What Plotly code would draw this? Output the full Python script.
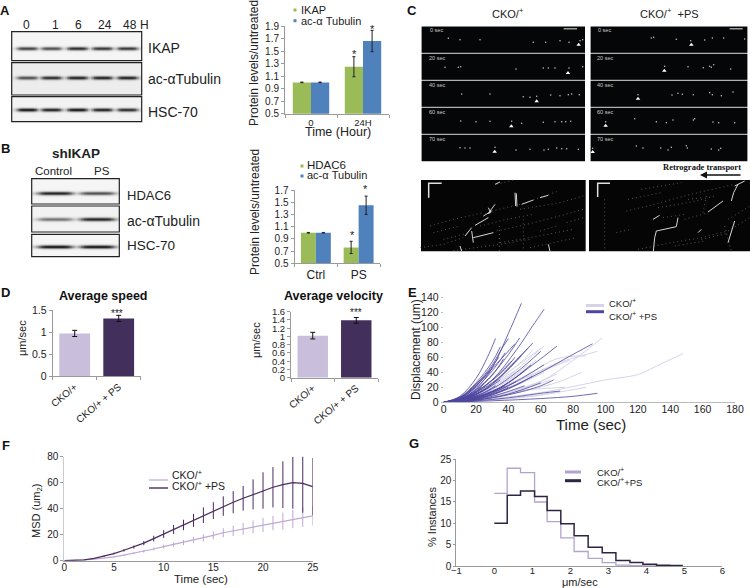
import numpy as np
import plotly.graph_objects as go

W, H = 750, 588
FONT = "Liberation Sans"
TXT = "#222222"
AXC = "#9a9a9a"

# ---------- Panel A / B bars
A_cats = ["0", "24H"]
A_ikap = [1.0, 1.25]
A_ikap_err = [0.005, 0.16]
A_tub = [1.0, 1.66]
A_tub_err = [0.005, 0.17]
A_ticks = [0.5, 0.7, 0.9, 1.1, 1.3, 1.5, 1.7, 1.9]

B_cats = ["Ctrl", "PS"]
B_hdac = [1.0, 0.76]
B_hdac_err = [0.005, 0.10]
B_tub = [1.0, 1.45]
B_tub_err = [0.005, 0.15]
B_ticks = [0.5, 0.7, 0.9, 1.1, 1.3, 1.5, 1.7]

# ---------- Panel D
D_cats = ["CKO/+", "CKO/+ + PS"]
D_speed = [0.97, 1.31]
D_speed_err = [0.07, 0.07]
D_vel = [1.02, 1.39]
D_vel_err = [0.08, 0.07]
D_speed_ticks = [0, 0.5, 1, 1.5]
D_vel_ticks = [0, 0.2, 0.4, 0.6, 0.8, 1, 1.2, 1.4, 1.6]

# ---------- Panel E (time, displacement) read per track
E_dark = [
    ([0, 10, 20, 30, 40, 48], [0, 4, 18, 46, 92, 132]),
    ([0, 15, 30, 45, 55, 62], [0, 7, 30, 70, 102, 124]),
    ([0, 10, 20, 27, 32], [0, 8, 32, 60, 85]),
    ([0, 10, 20, 30, 36, 40], [0, 6, 24, 50, 72, 85]),
    ([0, 12, 25, 38, 47], [0, 6, 26, 58, 86]),
    ([0, 15, 30, 45, 55], [0, 6, 24, 56, 79]),
    ([0, 15, 30, 42, 52], [0, 6, 25, 50, 72]),
    ([0, 15, 30, 45, 60], [0, 5, 18, 40, 68]),
    ([0, 15, 35, 55, 70], [0, 5, 20, 50, 75]),
    ([0, 20, 40, 60, 75, 92], [0, 5, 19, 40, 58, 78]),
    ([0, 10, 20, 30, 38], [0, 5, 20, 42, 66]),
    ([0, 10, 20, 28, 34], [0, 6, 22, 42, 60]),
    ([0, 12, 24, 36, 44], [0, 6, 20, 40, 60]),
    ([0, 10, 20, 30], [0, 6, 22, 45]),
    ([0, 15, 30, 45, 54], [0, 4, 14, 34, 50]),
    ([0, 15, 30, 45], [0, 3, 12, 28]),
    ([0, 20, 40, 55], [0, 4, 18, 35]),
    ([0, 20, 40, 60, 68], [0, 3, 10, 22, 30]),
    ([0, 20, 40, 60, 72], [0, 2, 6, 12, 15]),
    ([0, 30, 60, 80, 95], [0, 2, 5, 8, 12]),
    ([0, 15, 30, 40], [0, 3, 10, 20]),
    ([0, 10, 25, 35], [0, 4, 16, 30]),
    ([0, 12, 24, 32], [0, 3, 12, 22]),
    ([0, 10, 20, 25], [0, 3, 14, 26]),
    ([0, 8, 16, 22], [0, 3, 13, 26]),
    ([0, 10, 20, 30, 37], [0, 4, 16, 36, 58]),
    ([0, 10, 20, 30, 42], [0, 4, 14, 30, 55]),
    ([0, 12, 24, 36, 48], [0, 5, 18, 36, 62]),
    ([0, 15, 30, 40, 50], [0, 4, 14, 26, 42]),
    ([0, 15, 30, 45, 62], [0, 4, 13, 28, 50]),
    ([0, 10, 20, 28], [0, 3, 10, 20]),
    ([0, 12, 25, 38], [0, 3, 10, 22]),
    ([0, 15, 30, 50], [0, 2, 8, 22]),
    ([0, 20, 40, 60], [0, 3, 11, 26]),
    ([0, 10, 18, 24], [0, 2, 8, 16]),
    ([0, 10, 20, 33, 44], [0, 6, 24, 52, 78]),
    ([0, 10, 20, 30, 35], [0, 7, 26, 54, 74]),
]
E_light = [
    ([0, 30, 60, 80, 98], [0, 8, 28, 56, 86]),
    ([0, 30, 60, 80, 100, 120, 135, 148], [0, 5, 13, 21, 30, 37, 52, 65]),
    ([0, 25, 50, 70, 85, 95], [0, 9, 32, 52, 62, 68]),
    ([0, 25, 50, 70, 88], [0, 10, 35, 58, 62]),
    ([0, 20, 40, 55, 62], [0, 10, 35, 62, 75]),
    ([0, 20, 40, 50, 55], [0, 12, 40, 58, 70]),
    ([0, 25, 50, 75], [0, 6, 16, 20]),
    ([0, 30, 60, 88], [0, 4, 10, 20]),
    ([0, 20, 40, 60, 78], [0, 7, 24, 42, 56]),
    ([0, 20, 40, 52], [0, 9, 30, 50]),
    ([0, 20, 35, 48], [0, 10, 30, 48]),
    ([0, 25, 50, 66], [0, 6, 18, 30]),
    ([0, 15, 30, 45, 60], [0, 7, 24, 48, 72]),
    ([0, 15, 30, 45, 57], [0, 5, 17, 36, 56]),
    ([0, 20, 40, 58, 72], [0, 6, 20, 38, 52]),
    ([0, 20, 40, 60, 70], [0, 4, 14, 28, 38]),
    ([0, 20, 40, 62], [0, 5, 18, 40]),
    ([0, 15, 30, 44], [0, 6, 20, 40]),
    ([0, 25, 50, 72, 85], [0, 5, 15, 28, 40]),
    ([0, 30, 55, 72], [0, 3, 8, 14]),
]
E_xticks = [0, 20, 40, 60, 80, 100, 120, 140, 160, 180]
E_yticks = [0, 20, 40, 60, 80, 100, 120, 140]

# ---------- Panel F
F_t = list(range(26))
F_cko = [0, 0.1, 0.5, 1.2, 2, 3, 4.3, 5.7, 7.2, 9, 10.8, 12.5, 14, 16, 17.5, 19.5, 21.5, 23, 24.5, 26, 27.5, 29, 30.5, 32, 33.5, 34.5]
F_cko_err = [0, 0, 0.1, 0.2, 0.3, 0.5, 0.6, 0.8, 1, 1.2, 1.5, 1.8, 2, 2.5, 2.7, 3, 3.5, 4, 4.5, 5, 5.5, 5.5, 6.5, 7, 7.5, 7.5]
F_ps = [0, 0.1, 0.6, 1.8, 3.4, 5.5, 8, 10.5, 13.5, 17, 20.5, 24, 27.5, 31, 35, 38.5, 42, 45, 48, 51, 54, 56.5, 58.5, 60, 59.5, 57]
F_ps_err = [0, 0, 0.1, 0.3, 0.5, 0.7, 1, 1.2, 1.6, 2.2, 3, 3.5, 4, 5, 6, 6.5, 7.5, 8.5, 9.5, 11.5, 14, 15.5, 18, 20, 22.5, 22]
F_xticks = [0, 5, 10, 15, 20, 25]
F_yticks = [0, 20, 40, 60, 80]

# ---------- Panel G
G_edges = [0, 0.34, 0.69, 1.06, 1.39, 1.75, 2.10, 2.47, 2.84, 3.20, 3.57, 3.91, 4.27, 4.62, 4.96]
G_cko = [17, 22.9, 21.9, 15, 10.4, 6.6, 3.4, 1.8, 0.8, 0.2, 0.1, 0, 0, 0, 0]
G_ps = [10, 16.6, 17.6, 16.3, 13, 9.9, 7.1, 4.4, 3.1, 1.3, 0.8, 0.4, 0.2, 0.1, 0.1]
G_xticks = [-1, 0, 1, 2, 3, 4, 5, 6]
G_yticks = [0, 5, 10, 15, 20, 25]

# ---------- Panel C microscopy (spots, per time row)
C_times = ["0 sec", "20 sec", "40 sec", "60 sec", "70 sec"]
C_L_x = [85, 120, 180, 340, 377, 420, 447, 480, 488, 75, 115, 122, 288, 370, 385, 405, 447, 488, 125, 210, 310, 330, 350, 392, 420, 445, 455, 478, 122, 168, 210, 275, 305, 370, 405, 425, 437, 452, 120, 135, 150, 225, 288, 330, 372, 385, 410, 425, 440, 475]
C_L_y = [43, 47, 47, 55, 55, 50, 55, 50, 47, 130, 130, 128, 135, 132, 132, 132, 132, 128, 210, 210, 218, 220, 217, 213, 215, 212, 210, 212, 291, 293, 292, 292, 298, 295, 293, 293, 293, 292, 371, 372, 372, 370, 378, 376, 378, 376, 372, 374, 374, 376]
C_L_arrow_x = [476, 444, 350, 274, 224]
C_L_arrow_y = [62, 147, 232, 307, 383]
C_R_x = [190, 197, 265, 308, 350, 373, 407, 470, 230, 300, 346, 365, 370, 377, 428, 150, 252, 270, 283, 316, 365, 373, 400, 435, 53, 140, 205, 235, 255, 316, 320, 375, 392, 440, 14, 145, 165, 218, 240, 250, 295, 298, 370, 392, 398]
C_R_y = [42, 40, 46, 50, 48, 42, 42, 45, 127, 128, 131, 127, 130, 122, 135, 212, 213, 208, 211, 212, 206, 212, 215, 204, 293, 284, 293, 296, 288, 288, 284, 294, 296, 296, 373, 366, 372, 372, 378, 370, 365, 372, 375, 378, 373]
C_R_arrow_x = [310, 229, 150, 53, 14]
C_R_arrow_y = [62, 140, 224, 305, 384]

# kymograph tracks
K_L_bright = [
    ([225, 240], [25, 18]), ([285, 287], [50, 90]), ([289, 291], [52, 92]),
    ([205, 212, 205, 225], [95, 110, 112, 85]), ([305, 340], [85, 72]), ([360, 385], [65, 58]),
    ([190, 215], [120, 105]), ([135, 155], [180, 155]), ([165, 205], [148, 125]),
    ([155, 160], [165, 200]), ([160, 220], [185, 170]), ([120, 125], [210, 226]), ([385, 390], [205, 226]),
]
K_L_faint = [
    ([30, 100, 190], [150, 130, 110]), ([70, 150], [190, 170]), ([230, 300, 400, 490], [165, 150, 125, 100]),
    ([240, 330, 460], [200, 185, 160]), ([310, 310], [130, 226]), ([360, 410], [165, 150]),
    ([230, 280], [25, 12]), ([300, 420, 490], [100, 80, 60]), ([0, 70, 130], [215, 205, 185]),
    ([100, 240, 330], [224, 205, 190]), ([238, 238], [150, 226]), ([440, 490], [140, 125]),
    ([215, 300], [105, 85]), ([340, 410], [72, 47]), ([180, 260, 340], [150, 130, 115]),
    ([330, 470], [215, 185]), ([40, 120], [170, 150]),
]
K_R_bright = [
    ([205, 200, 196], [165, 185, 226]), ([205, 265, 270], [165, 152, 125]), ([360, 405], [108, 75]),
    ([430, 437, 450], [75, 50, 25]), ([440, 470], [30, 15]), ([195, 215], [130, 118]),
    ([420, 440], [200, 135]), ([330, 340], [170, 160]),
]
K_R_faint = [
    ([115, 180, 270, 350, 440], [105, 90, 65, 45, 25]), ([150, 250, 340, 420, 486], [220, 200, 185, 165, 125]),
    ([340, 420], [190, 172]), ([85, 130], [170, 160]), ([290, 360], [130, 110]), ([345, 355], [110, 60]),
    ([160, 280], [40, 20]), ([300, 340], [70, 65]), ([420, 486], [130, 90]), ([225, 290], [125, 115]),
    ([410, 420, 430], [150, 190, 226]), ([260, 350], [210, 195]), ([120, 220], [70, 50]),
    ([210, 300, 380], [95, 80, 60]), ([50, 50], [70, 226]),
]

# blot band darkness per lane
BLOT_A = [
    ("IKAP", (11.7, 141.7, 31.7, 60.7), 47.7, [27, 51, 77, 102, 127], [0.75, 0.7, 0.85, 0.8, 0.8], 0.96),
    ("ac", (11.7, 141.7, 62.7, 95), 77, [27, 51, 77, 102, 127], [0.7, 0.85, 0.9, 0.9, 0.9], 0.93),
    ("HSC", (11.7, 141.7, 96.7, 121.7), 109, [27, 51, 77, 102, 127], [0.95, 0.9, 0.95, 0.9, 0.85], 0.95),
]
BLOT_B = [
    ("HDAC6", (31.7, 119.3, 178.7, 204), 192.5, [55, 97], [0.9, 0.7], 0.96),
    ("ac", (31.7, 119.3, 206, 232), 218.5, [55, 97], [0.55, 0.9], 0.95),
    ("HSC", (31.7, 119.3, 234.3, 256.7), 246, [55, 97], [0.95, 0.95], 0.96),
]

C_GREEN, C_BLUE = "#9bbb59", "#4f81bd"
D_LIGHT, D_DARK = "#c9bfdd", "#432f5c"
E_DARK, E_LIGHT = "#4f479f", "#d6d3e9"
F_LIGHT, F_DARK = "#bfa8d4", "#4b2b5c"
G_LIGHT, G_DARK = "#b3a3cf", "#2d2542"

fig = go.Figure()
layout = {}
shapes = []
annots = []


def px(x):
    return x / W


def py(y):
    return 1 - y / H


def add_axes(n, box, xkw=None, ykw=None):
    x0, x1, y0, y1 = box
    sfx = "" if n == 1 else str(n)
    base = dict(showline=True, linecolor=AXC, linewidth=1, ticks="outside", ticklen=3,
                tickcolor=AXC, showgrid=False, zeroline=False,
                tickfont=dict(family=FONT, size=10, color=TXT))
    bx = dict(base); bx.update(domain=[px(x0), px(x1)], anchor="y" + sfx)
    by = dict(base); by.update(domain=[py(y1), py(y0)], anchor="x" + sfx)
    bx.update(xkw or {}); by.update(ykw or {})
    layout["xaxis" + sfx] = bx
    layout["yaxis" + sfx] = by
    return "x" + sfx, "y" + sfx


def text(x, y, s, size=11, anchor="left", color=TXT, bold=False, angle=0, fam=FONT):
    annots.append(dict(x=px(x), y=py(y), xref="paper", yref="paper", text=f"<b>{s}</b>" if bold else s,
                       showarrow=False, xanchor=anchor, yanchor="middle", textangle=angle,
                       font=dict(family=fam, size=size, color=color), borderpad=0, borderwidth=0))


def hline(x0, x1, y, color, width):
    shapes.append(dict(type="line", xref="paper", yref="paper", x0=px(x0), x1=px(x1), y0=py(y), y1=py(y),
                       line=dict(color=color, width=width)))


def cat_axis(cats, size=10, angle=0):
    return dict(range=[-0.5, 1.5], tickmode="array", tickvals=[0, 1], ticktext=cats, ticks="",
                tickangle=angle, tickfont=dict(family=FONT, size=size, color=TXT),
                minor=dict(tickmode="array", tickvals=[-0.5, 0.5, 1.5], ticks="outside", ticklen=3, tickcolor=AXC))


def bars(xa, ya, vals, errs, color, name, width=None):
    fig.add_trace(go.Bar(x=[0, 1], y=vals, marker=dict(color=color, line=dict(width=0)), name=name, xaxis=xa, yaxis=ya,
                         error_y=dict(type="data", array=errs, color="#222222", thickness=1, width=1.5)))


# Panel A chart
xa, ya = add_axes(1, (285, 389, 26, 113.7), cat_axis(A_cats, 9.5),
                  dict(range=[0.5, 1.9], tickmode="array", tickvals=A_ticks, tickformat=".1f"))
bars(xa, ya, A_ikap, A_ikap_err, C_GREEN, "IKAP")
bars(xa, ya, A_tub, A_tub_err, C_BLUE, "ac-α Tubulin")
# Panel B chart
xa, ya = add_axes(2, (294.5, 380, 190, 263.3), cat_axis(B_cats, 12),
                  dict(range=[0.5, 1.7], tickmode="array", tickvals=B_ticks, tickformat=".1f"))
bars(xa, ya, B_hdac, B_hdac_err, C_GREEN, "HDAC6")
bars(xa, ya, B_tub, B_tub_err, C_BLUE, "ac-α Tubulin")

# Panel D
xa, ya = add_axes(3, (52.7, 140.7, 310, 376.3), cat_axis(D_cats, 10, -40),
                  dict(range=[0, 1.5], tickmode="array", tickvals=D_speed_ticks, tickfont=dict(family=FONT, size=10.5, color=TXT)))
fig.add_trace(go.Bar(x=[0, 1], y=D_speed, xaxis=xa, yaxis=ya, marker=dict(color=[D_LIGHT, D_DARK], line=dict(width=0)),
                     error_y=dict(type="data", array=D_speed_err, color="#111111", thickness=1, width=2.5)))
xa, ya = add_axes(4, (291, 378, 311.7, 377.7), cat_axis(D_cats, 10, -40),
                  dict(range=[0, 1.6], tickmode="array", tickvals=D_vel_ticks, tickfont=dict(family=FONT, size=9.5, color=TXT)))
fig.add_trace(go.Bar(x=[0, 1], y=D_vel, xaxis=xa, yaxis=ya, marker=dict(color=[D_LIGHT, D_DARK], line=dict(width=0)),
                     error_y=dict(type="data", array=D_vel_err, color="#111111", thickness=1, width=2.5)))

# Panel E
xa, ya = add_axes(5, (443.7, 735, 297.3, 402.3),
                  dict(range=[0, 180], tickmode="array", tickvals=E_xticks, ticks="", ticklen=0, ticklabelstandoff=-3, tickfont=dict(family=FONT, size=10.5, color=TXT), linecolor="#bbbbbb", tickcolor="#bbbbbb"),
                  dict(range=[0, 140], tickmode="array", tickvals=E_yticks, ticklen=2, tickfont=dict(family=FONT, size=10.5, color=TXT), showline=False, tickcolor="#bbbbbb"))
for t, d in E_light:
    fig.add_trace(go.Scatter(x=t, y=d, mode="lines", xaxis=xa, yaxis=ya, line=dict(color=E_LIGHT, width=1, shape="spline"), cliponaxis=False))
for t, d in E_dark:
    fig.add_trace(go.Scatter(x=t, y=d, mode="lines", xaxis=xa, yaxis=ya, line=dict(color=E_DARK, width=1, shape="spline"), cliponaxis=False, opacity=0.8))

# Panel F
xa, ya = add_axes(6, (64.3, 312.7, 456.7, 560.7),
                  dict(range=[0, 25], tickmode="array", tickvals=F_xticks, ticks="", ticklen=0, ticklabelstandoff=-3, tickfont=dict(family=FONT, size=10, color=TXT)),
                  dict(range=[0, 80], tickmode="array", tickvals=F_yticks, tickfont=dict(family=FONT, size=10, color=TXT), linecolor="#cccccc"))
fig.add_trace(go.Scatter(x=F_t, y=F_cko, mode="lines", xaxis=xa, yaxis=ya, line=dict(color=F_LIGHT, width=1.2),
                         error_y=dict(type="data", array=F_cko_err, color=F_LIGHT, thickness=1, width=0)))
fig.add_trace(go.Scatter(x=F_t, y=F_ps, mode="lines", xaxis=xa, yaxis=ya, line=dict(color=F_DARK, width=1.2),
                         error_y=dict(type="data", array=F_ps_err, color=F_DARK, thickness=1, width=0)))

# Panel G
xa, ya = add_axes(7, (456.3, 722.3, 459.3, 566),
                  dict(range=[-1, 6], tickmode="array", tickvals=G_xticks, ticks="", ticklen=0, ticklabelstandoff=-4, tickfont=dict(family=FONT, size=9.5, color=TXT)),
                  dict(range=[0, 25], tickmode="array", tickvals=G_yticks, ticklen=2, tickfont=dict(family=FONT, size=10, color=TXT)))
fig.add_trace(go.Scatter(x=G_edges, y=G_cko, mode="lines", xaxis=xa, yaxis=ya, line=dict(color=G_LIGHT, width=1.3, shape="hv"), cliponaxis=False))
fig.add_trace(go.Scatter(x=G_edges, y=G_ps, mode="lines", xaxis=xa, yaxis=ya, line=dict(color=G_DARK, width=1.5, shape="hv"), cliponaxis=False))

# Canvas axes for blots
hide = dict(visible=False, showline=False, ticks="", showticklabels=False)
xa, ya = add_axes(8, (0, 750, 0, 588), dict(range=[0, W], **hide), dict(range=[H, 0], **hide))


def blot(box, band_y, lanes, strengths, bg):
    x0, x1, y0, y1 = box
    xs = np.arange(x0, x1 + 0.5, 1.5)
    ys = np.arange(y0, y1 + 0.5, 1.0)
    X, Y = np.meshgrid(xs, ys)
    dark = np.zeros_like(X)
    for lane, s in zip(lanes, strengths):
        half = 10 if len(lanes) > 2 else 17
        horiz = 1 / (1 + ((X - lane) / half) ** 6)
        dark = np.maximum(dark, s * horiz * np.exp(-((Y - band_y) / 1.7) ** 2))
    z = bg - dark * bg
    fig.add_trace(go.Heatmap(x=xs, y=ys, z=z, xaxis=xa, yaxis=ya, zmin=0, zmax=1, zsmooth="best",
                             colorscale=[[0, "#000000"], [1, "#ffffff"]], showscale=False))
    shapes.append(dict(type="rect", xref="paper", yref="paper", x0=px(x0), x1=px(x1), y0=py(y0), y1=py(y1),
                       line=dict(color="#222222", width=1.2)))


for _n, box, by_, lanes, st, bg in BLOT_A + BLOT_B:
    blot(box, by_, lanes, st, bg)

# Panel C image axes (crop units)
imgs = [
    (9, (420, 590, 24, 164), 510, 420),
    (10, (588, 750, 24, 164), 486, 420),
    (11, (420, 588, 176, 254), 504, 234),
    (12, (588, 750, 176, 254), 486, 234),
]
img_axes = {}
for n, box, rx, ry in imgs:
    img_axes[n] = add_axes(n, box, dict(range=[0, rx], **hide), dict(range=[ry, 0], **hide))


def rect_on(ax, x0, x1, y0, y1, color):
    shapes.append(dict(type="rect", xref=ax[0], yref=ax[1], x0=x0, x1=x1, y0=y0, y1=y1,
                       fillcolor=color, line=dict(width=0), layer="below"))


row_y = [(8, 86), (90, 167), (171, 248), (252, 329), (333, 411)]
for n, xlo, xhi, sx, ax_, ay_, lblx, bar_ in [
    (9, 5, 495, (C_L_x, C_L_y), C_L_arrow_x, C_L_arrow_y, 50, (431, 471)),
    (10, 8, 478, (C_R_x, C_R_y), C_R_arrow_x, C_R_arrow_y, 50, (425, 464)),
]:
    ax = img_axes[n]
    rect_on(ax, xlo, xhi, 6, 413, "#b0b0b0")
    for (a, b), lab in zip(row_y, C_times):
        rect_on(ax, xlo, xhi, a, b, "#050607")
        annots.append(dict(x=lblx, y=a + 11, xref=ax[0], yref=ax[1], text=lab, showarrow=False,
                           font=dict(family=FONT, size=5.5, color="#cccccc")))
    rect_on(ax, bar_[0], bar_[1], 13, 16, "#e8e8e8")
    fig.add_trace(go.Scatter(x=sx[0], y=sx[1], mode="markers", xaxis=ax[0], yaxis=ax[1],
                             marker=dict(color="#c8c8c8", size=1.5, line=dict(width=0))))
    fig.add_trace(go.Scatter(x=ax_, y=ay_, mode="markers", xaxis=ax[0], yaxis=ax[1],
                             marker=dict(color="#ffffff", size=4, symbol="triangle-up", line=dict(width=0))))

for n, xlo, xhi, br, fa, ell in [
    (11, 3, 497, K_L_bright, K_L_faint, ([65, 26, 26], [22, 22, 65])),
    (12, 3, 486, K_R_bright, K_R_faint, ([66, 29, 29], [22, 22, 63])),
]:
    ax = img_axes[n]
    rect_on(ax, xlo, xhi, 12, 226, "#050505")
    for tx, ty in fa:
        fig.add_trace(go.Scatter(x=tx, y=ty, mode="lines", xaxis=ax[0], yaxis=ax[1],
                                 line=dict(color="#7a7a7a", width=0.7, dash="1px,3px")))
    for tx, ty in br:
        fig.add_trace(go.Scatter(x=tx, y=ty, mode="lines", xaxis=ax[0], yaxis=ax[1],
                                 line=dict(color="#d5d5d5", width=1)))
    fig.add_trace(go.Scatter(x=ell[0], y=ell[1], mode="lines", xaxis=ax[0], yaxis=ax[1],
                             line=dict(color="#e0e0e0", width=1.5)))

# --- texts
for s, x, y in [("A", 5, 11), ("B", 5, 148), ("C", 412, 11), ("D", 5, 292), ("E", 412, 292), ("F", 6, 445), ("G", 414, 443)]:
    text(x, y, s, 13, "center", "#111111", True)

for s, x in [("0", 27), ("1", 55), ("6", 78), ("24", 105), ("48", 130), ("H", 144)]:
    text(x, 25, s, 12, "center")
text(148, 48, "IKAP", 14)
text(148, 79, "ac-αTubulin", 14)
text(148, 112, "HSC-70", 14)

text(76, 154, "shIKAP", 13.5, "center", bold=True)
text(54, 171, "Control", 11.5, "center")
text(102, 171, "PS", 11.5, "center")
text(127, 195, "HDAC6", 13)
text(127, 221, "ac-αTubulin", 14)
text(127, 245, "HSC-70", 13.5)

# chart A/B labels
text(254, 63, "Protein levels/untreated", 12, "center", angle=-90)
text(338, 132, "Time (Hour)", 12.5, "center")
text(255, 212, "Protein levels/untreated", 12, "center", angle=-90)
text(301, 10, "IKAP", 11)
text(301, 20.7, "ac-α Tubulin", 11)
text(307, 165, "HDAC6", 11.5)
text(307, 175, "ac-α Tubulin", 11)
for x, y, c in [(295, 10, C_GREEN), (295, 20.7, C_BLUE), (302, 166, C_GREEN), (302, 176, C_BLUE)]:
    hline(x - 1.5, x + 1.5, y, c, 3)
for x, y in [(354, 54), (372, 29), (352, 235), (365, 189)]:
    text(x, y, "*", 11, "center")

# panel C titles
text(508, 13, "CKO/<sup>+</sup>", 11, "center")
text(669, 13, "CKO/<sup>+</sup>  +PS", 11, "center")
text(702, 167, "Retrograde transport", 8.5, "center", "#111111", True, fam="Liberation Serif")
annots.append(dict(x=700, y=175, ax=742, ay=175, xref="x8", yref="y8", axref="x8", ayref="y8",
                   text="", showarrow=True, arrowhead=2, arrowsize=1, arrowwidth=1.4, arrowcolor="#111111"))

# D
text(103, 296, "Average speed", 12.5, "center", "#111111", True)
text(333, 296, "Average velocity", 12.5, "center", "#111111", True)
text(117, 313, "***", 10, "center")
text(356, 312, "***", 10, "center")
text(22, 338, "μm/sec", 11, "center", angle=-90)
text(256, 340, "μm/sec", 11, "center", angle=-90)

# E
text(416, 350, "Displacement (um)", 12, "center", angle=-90)
text(591, 424, "Time (sec)", 15, "center")
hline(586, 604, 305.5, E_LIGHT, 3)
hline(586, 604, 311.7, E_DARK, 3)
text(609, 303, "CKO/<sup>+</sup>", 9.5)
text(609, 316, "CKO/<sup>+</sup> +PS", 9.5)

# F
text(37, 511, "MSD (um<sub>2</sub>)", 11, "center", angle=-90)
text(201, 579, "Time (sec)", 11.5, "center")
text(172, 474, "CKO/<sup>+</sup>", 10.5)
text(172, 485, "CKO/<sup>+</sup> +PS", 10.5)
hline(149, 168, 480, F_LIGHT, 1.2)
hline(149, 168, 488, F_DARK, 1.4)

# G
text(432, 517, "% Instances", 11, "center", angle=-90)
text(580, 582, "μm/sec", 11, "center")
hline(565, 581, 472, G_LIGHT, 3)
hline(565, 581, 480.7, G_DARK, 3)
text(597, 472, "CKO/<sup>+</sup>", 9.5)
text(597, 482, "CKO/<sup>+</sup>+PS", 9.5)

layout.update(width=W, height=H, autosize=False, margin=dict(l=0, r=0, t=0, b=0, pad=0, autoexpand=False),
              paper_bgcolor="#ffffff", plot_bgcolor="rgba(0,0,0,0)", showlegend=False, barmode="group", bargap=0.3, bargroupgap=0,
              shapes=shapes, annotations=annots, font=dict(family=FONT))
fig.update_layout(**layout)
fig.write_html("out.html", config=dict(displayModeBar=False), post_script="document.body.style.margin='0';")
